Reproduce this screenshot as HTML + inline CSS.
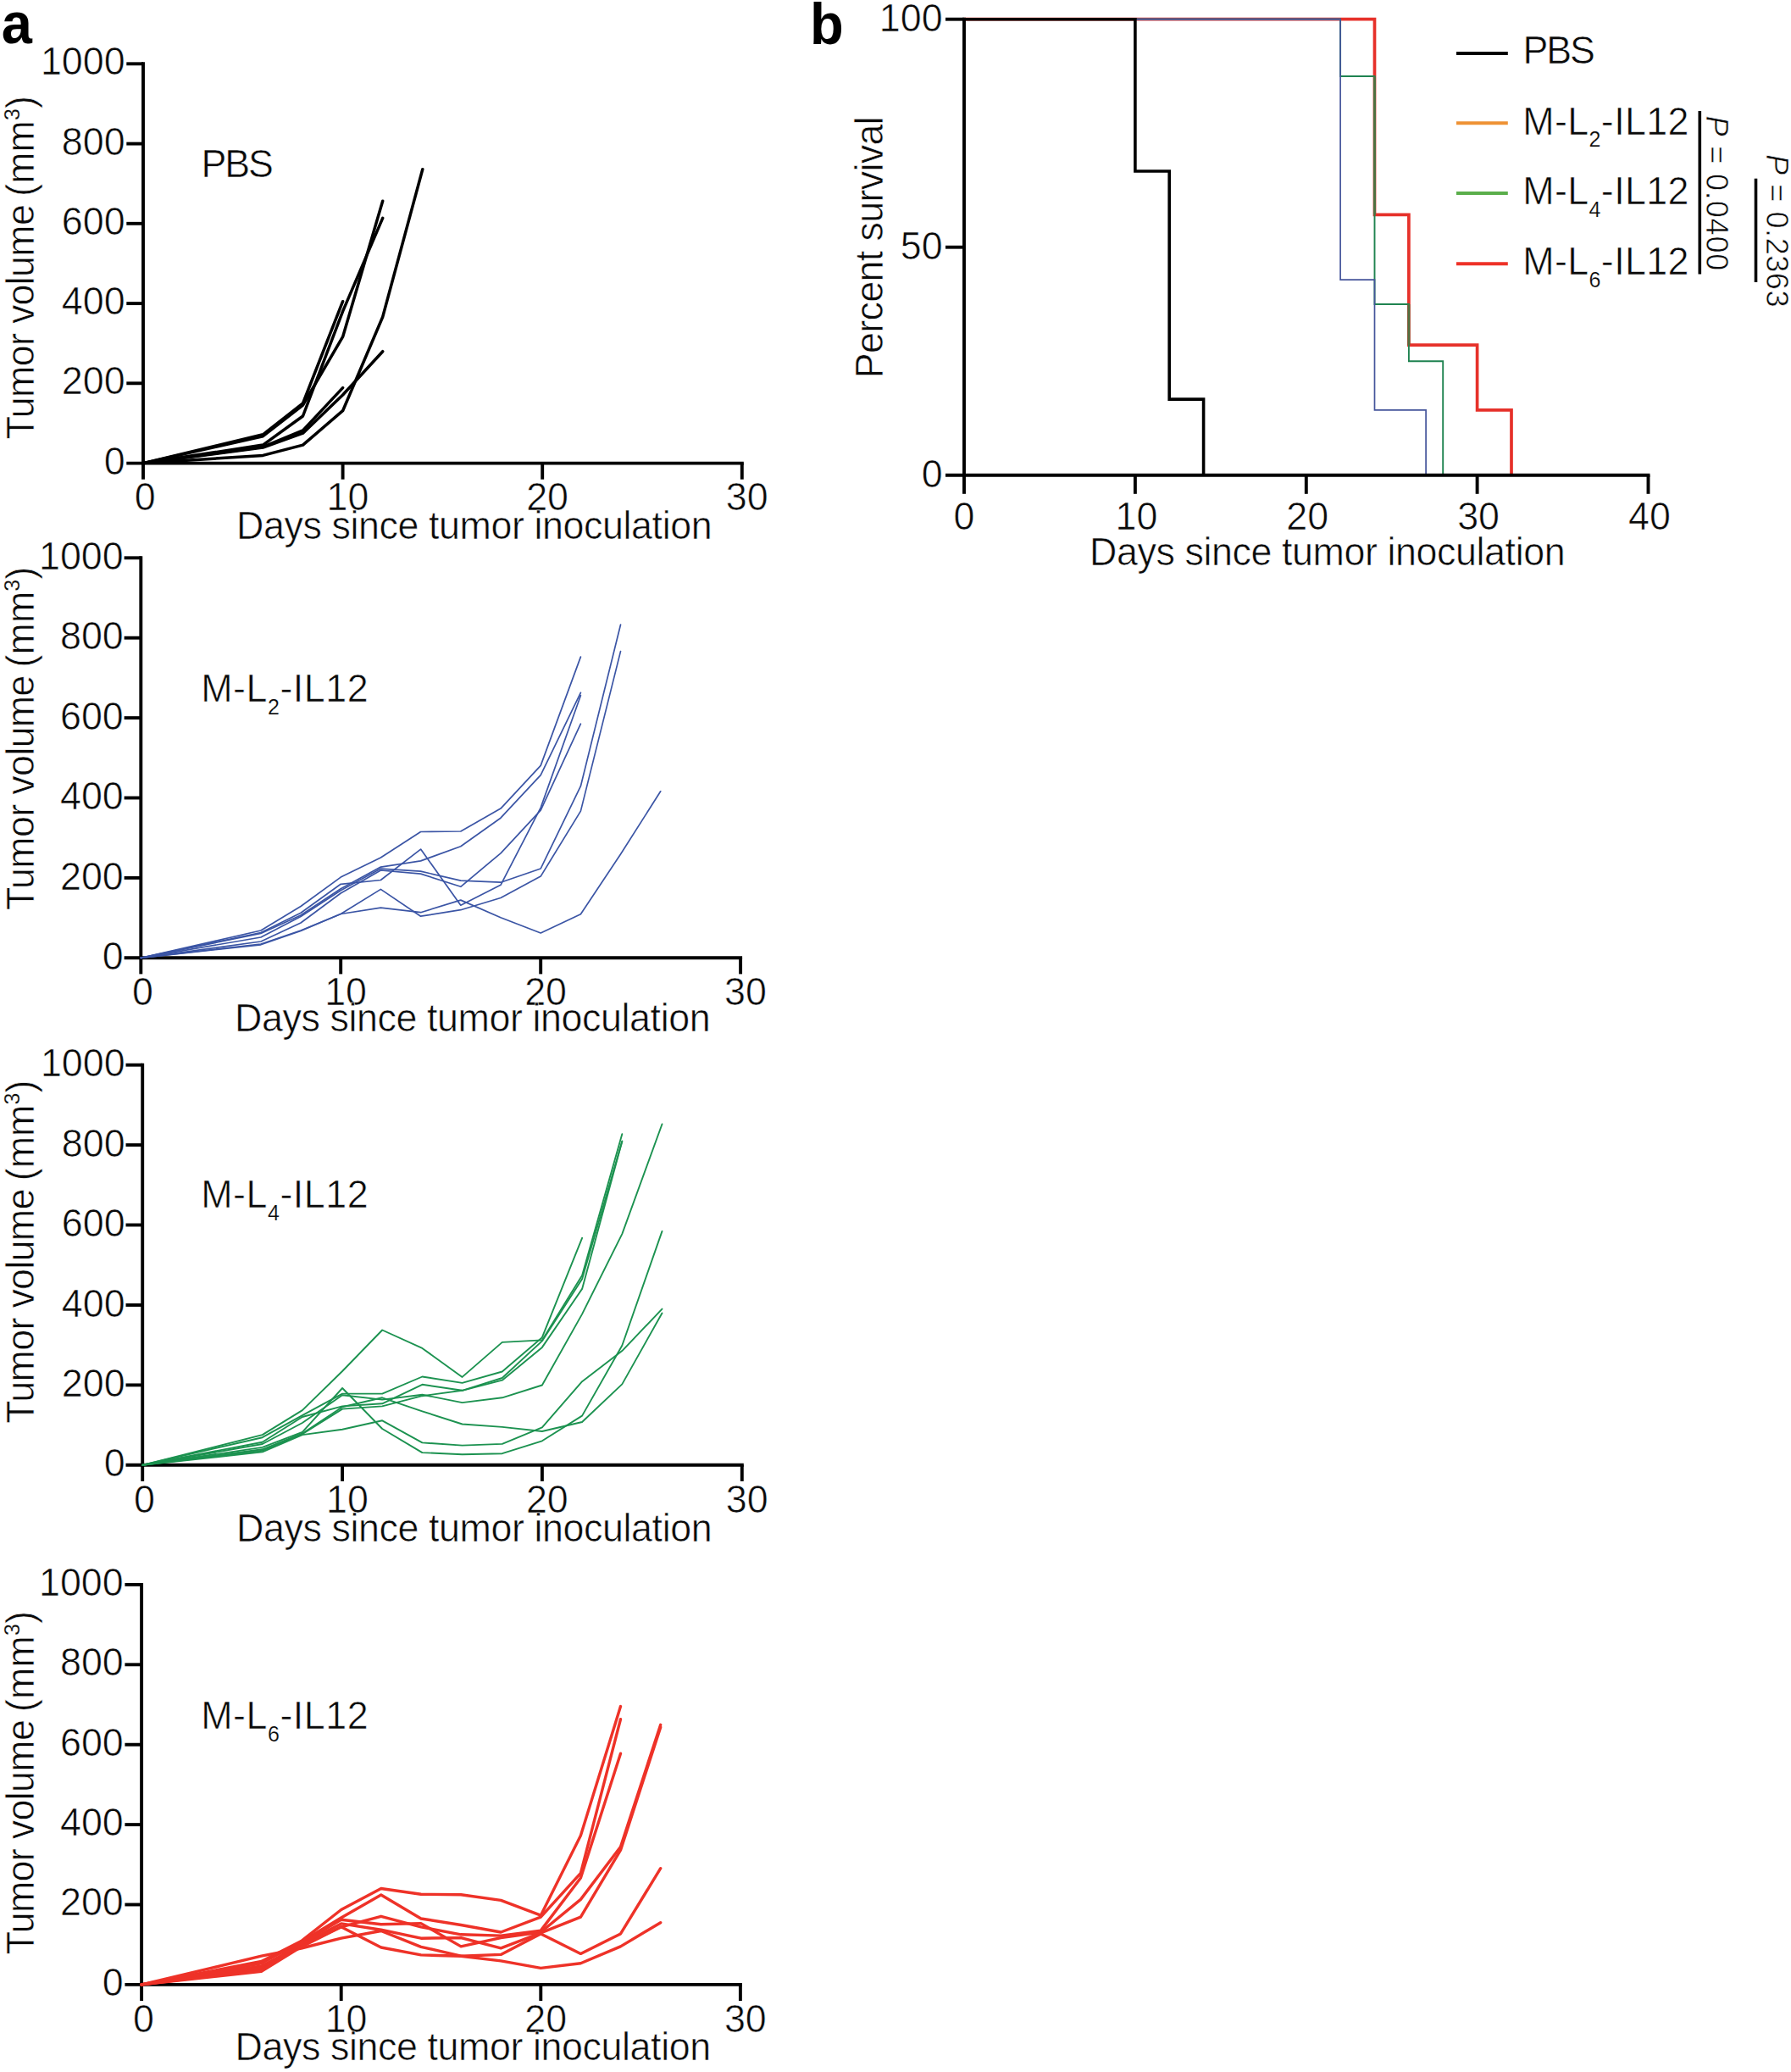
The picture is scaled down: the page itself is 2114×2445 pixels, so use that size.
<!DOCTYPE html>
<html lang="en"><head><meta charset="utf-8"><title>Tumor volume and survival</title>
<style>
html,body{margin:0;padding:0;background:#fff;}
svg{display:block;}
text{font-family:"Liberation Sans",sans-serif;font-size:44.8px;fill:#0a0a0a;}
.t{stroke:#fff;stroke-width:0.6px;paint-order:fill stroke;stroke-linejoin:round;}
.b{font-weight:bold;fill:#000;}
.i{font-style:italic;}
.s{stroke-width:0.2px;}
</style></head><body>
<svg width="2114" height="2445" viewBox="0 0 2114 2445" role="img" aria-label="Tumor volume curves and survival">
<rect x="0" y="0" width="2114" height="2445" fill="#ffffff"/>
<!-- panel a -->
<text class="b" transform="translate(1.8 51.4) scale(1 1.04)" style="font-size:65px">a</text>
<line x1="169" y1="73.3" x2="169" y2="548.6" stroke="#000" stroke-width="3.9" stroke-linecap="butt"/>
<line x1="149.3" y1="546.6" x2="877.8" y2="546.6" stroke="#000" stroke-width="3.9" stroke-linecap="butt"/>
<line x1="149.3" y1="75.3" x2="169" y2="75.3" stroke="#000" stroke-width="3.9" stroke-linecap="butt"/>
<line x1="149.3" y1="169.6" x2="169" y2="169.6" stroke="#000" stroke-width="3.9" stroke-linecap="butt"/>
<line x1="149.3" y1="263.8" x2="169" y2="263.8" stroke="#000" stroke-width="3.9" stroke-linecap="butt"/>
<line x1="149.3" y1="358.1" x2="169" y2="358.1" stroke="#000" stroke-width="3.9" stroke-linecap="butt"/>
<line x1="149.3" y1="452.3" x2="169" y2="452.3" stroke="#000" stroke-width="3.9" stroke-linecap="butt"/>
<line x1="169" y1="546.6" x2="169" y2="565.7" stroke="#000" stroke-width="3.9" stroke-linecap="butt"/>
<line x1="404.6" y1="546.6" x2="404.6" y2="565.7" stroke="#000" stroke-width="3.9" stroke-linecap="butt"/>
<line x1="640.2" y1="546.6" x2="640.2" y2="565.7" stroke="#000" stroke-width="3.9" stroke-linecap="butt"/>
<line x1="875.8" y1="546.6" x2="875.8" y2="565.7" stroke="#000" stroke-width="3.9" stroke-linecap="butt"/>
<polyline points="169,546.6 310.4,512.8 357.5,476 404.6,355.7" fill="none" stroke="#000000" stroke-width="3.5" stroke-linecap="round" stroke-linejoin="round"/>
<polyline points="169,546.6 310.4,514.7 357.5,478 404.6,397.4 451.7,237.2" fill="none" stroke="#000000" stroke-width="3.5" stroke-linecap="round" stroke-linejoin="round"/>
<polyline points="169,546.6 310.4,525.1 357.5,491 404.6,367.4 451.7,257.4" fill="none" stroke="#000000" stroke-width="3.5" stroke-linecap="round" stroke-linejoin="round"/>
<polyline points="169,546.6 310.4,527.3 357.5,507.9 404.6,457.6" fill="none" stroke="#000000" stroke-width="3.5" stroke-linecap="round" stroke-linejoin="round"/>
<polyline points="169,546.6 310.4,528 357.5,511.2 404.6,466 451.7,414.7" fill="none" stroke="#000000" stroke-width="3.5" stroke-linecap="round" stroke-linejoin="round"/>
<polyline points="169,546.6 310.4,537.4 357.5,525.1 404.6,484.7 451.7,374 498.8,199.7" fill="none" stroke="#000000" stroke-width="3.5" stroke-linecap="round" stroke-linejoin="round"/>
<text class="t" text-anchor="end" transform="translate(147.6 88.4) scale(1 1.05)">1000</text>
<text class="t" text-anchor="end" transform="translate(147.6 182.7) scale(1 1.05)">800</text>
<text class="t" text-anchor="end" transform="translate(147.6 276.9) scale(1 1.05)">600</text>
<text class="t" text-anchor="end" transform="translate(147.6 371.2) scale(1 1.05)">400</text>
<text class="t" text-anchor="end" transform="translate(147.6 465.4) scale(1 1.05)">200</text>
<text class="t" text-anchor="end" transform="translate(147.6 559.7) scale(1 1.05)">0</text>
<text class="t" transform="translate(158.8 602) scale(1 1.05)">0</text>
<text class="t" transform="translate(385.6 602) scale(1 1.05)">10</text>
<text class="t" transform="translate(621.2 602) scale(1 1.05)">20</text>
<text class="t" transform="translate(856.8 602) scale(1 1.05)">30</text>
<text class="t" textLength="561.5" lengthAdjust="spacing" transform="translate(279.1 636.3) scale(1 1.05)">Days since tumor inoculation</text>
<text class="t" textLength="277.1" lengthAdjust="spacing" transform="translate(39.5 518.2) rotate(-90) scale(1 1.05)">Tumor volume</text>
<text class="t" textLength="118.7" lengthAdjust="spacing" transform="translate(39.5 231.8) rotate(-90) scale(1 1.05)">(mm<tspan class="s" font-size="25" dy="-15.5">3</tspan><tspan dy="15.5">)</tspan></text>
<text class="t" textLength="85.5" lengthAdjust="spacing" transform="translate(237.5 209) scale(1 1.05)">PBS</text>
<line x1="166.3" y1="656.3" x2="166.3" y2="1132.2" stroke="#000" stroke-width="3.9" stroke-linecap="butt"/>
<line x1="146.6" y1="1130.3" x2="876.1" y2="1130.3" stroke="#000" stroke-width="3.9" stroke-linecap="butt"/>
<line x1="146.6" y1="658.3" x2="166.3" y2="658.3" stroke="#000" stroke-width="3.9" stroke-linecap="butt"/>
<line x1="146.6" y1="752.7" x2="166.3" y2="752.7" stroke="#000" stroke-width="3.9" stroke-linecap="butt"/>
<line x1="146.6" y1="847.1" x2="166.3" y2="847.1" stroke="#000" stroke-width="3.9" stroke-linecap="butt"/>
<line x1="146.6" y1="941.5" x2="166.3" y2="941.5" stroke="#000" stroke-width="3.9" stroke-linecap="butt"/>
<line x1="146.6" y1="1035.9" x2="166.3" y2="1035.9" stroke="#000" stroke-width="3.9" stroke-linecap="butt"/>
<line x1="166.3" y1="1130.3" x2="166.3" y2="1149.4" stroke="#000" stroke-width="3.9" stroke-linecap="butt"/>
<line x1="402.2" y1="1130.3" x2="402.2" y2="1149.4" stroke="#000" stroke-width="3.9" stroke-linecap="butt"/>
<line x1="638.2" y1="1130.3" x2="638.2" y2="1149.4" stroke="#000" stroke-width="3.9" stroke-linecap="butt"/>
<line x1="874.1" y1="1130.3" x2="874.1" y2="1149.4" stroke="#000" stroke-width="3.9" stroke-linecap="butt"/>
<polyline points="166.3,1130.3 307.9,1098 355,1069.5 402.2,1035.1 449.4,1012 496.6,981.5 543.8,981 591,954.1 638.2,903.4 685.4,775.1" fill="none" stroke="#3b55a5" stroke-width="1.7" stroke-linecap="round" stroke-linejoin="round"/>
<polyline points="166.3,1130.3 307.9,1100.5 355,1077.3 402.2,1043.3 449.4,1038.5 496.6,1002.1 543.8,1068.2 591,1044.3 638.2,953.1 685.4,820.7" fill="none" stroke="#3b55a5" stroke-width="1.7" stroke-linecap="round" stroke-linejoin="round"/>
<polyline points="166.3,1130.3 307.9,1101.5 355,1080 402.2,1048.8 449.4,1023.1 496.6,1015.9 543.8,998.7 591,965.2 638.2,914.6 685.4,817.3" fill="none" stroke="#3b55a5" stroke-width="1.7" stroke-linecap="round" stroke-linejoin="round"/>
<polyline points="166.3,1130.3 307.9,1106 355,1081.5 402.2,1050.8 449.4,1025.1 496.6,1028.1 543.8,1039.2 591,1041.2 638.2,1025 685.4,927.7 732.5,737.2" fill="none" stroke="#3b55a5" stroke-width="1.7" stroke-linecap="round" stroke-linejoin="round"/>
<polyline points="166.3,1130.3 307.9,1111 355,1089 402.2,1054 449.4,1027 496.6,1031.1 543.8,1046.3 591,1006.8 638.2,956.1 685.4,854.2" fill="none" stroke="#3b55a5" stroke-width="1.7" stroke-linecap="round" stroke-linejoin="round"/>
<polyline points="166.3,1130.3 307.9,1114 355,1098 402.2,1078.5 449.4,1049.4 496.6,1081.2 543.8,1073.7 591,1059.5 638.2,1034.1 685.4,957.1 732.5,768.6" fill="none" stroke="#3b55a5" stroke-width="1.7" stroke-linecap="round" stroke-linejoin="round"/>
<polyline points="166.3,1130.3 307.9,1114.8 355,1098.5 402.2,1078.5 449.4,1071.2 496.6,1076.7 543.8,1062.1 591,1082.8 638.2,1101 685.4,1078.7 732.5,1008 779.7,933.8" fill="none" stroke="#3b55a5" stroke-width="1.7" stroke-linecap="round" stroke-linejoin="round"/>
<text class="t" text-anchor="end" transform="translate(145.7 671.9) scale(1 1.05)">1000</text>
<text class="t" text-anchor="end" transform="translate(145.7 766.3) scale(1 1.05)">800</text>
<text class="t" text-anchor="end" transform="translate(145.7 860.7) scale(1 1.05)">600</text>
<text class="t" text-anchor="end" transform="translate(145.7 955.1) scale(1 1.05)">400</text>
<text class="t" text-anchor="end" transform="translate(145.7 1049.5) scale(1 1.05)">200</text>
<text class="t" text-anchor="end" transform="translate(145.7 1143.9) scale(1 1.05)">0</text>
<text class="t" transform="translate(156.1 1185.5) scale(1 1.05)">0</text>
<text class="t" transform="translate(383.2 1185.5) scale(1 1.05)">10</text>
<text class="t" transform="translate(619.2 1185.5) scale(1 1.05)">20</text>
<text class="t" transform="translate(855.1 1185.5) scale(1 1.05)">30</text>
<text class="t" textLength="561.5" lengthAdjust="spacing" transform="translate(277.1 1216.9) scale(1 1.05)">Days since tumor inoculation</text>
<text class="t" textLength="277.1" lengthAdjust="spacing" transform="translate(39.5 1073.9) rotate(-90) scale(1 1.05)">Tumor volume</text>
<text class="t" textLength="118.7" lengthAdjust="spacing" transform="translate(39.5 787.5) rotate(-90) scale(1 1.05)">(mm<tspan class="s" font-size="25" dy="-15.5">3</tspan><tspan dy="15.5">)</tspan></text>
<text class="t" textLength="197.5" lengthAdjust="spacing" transform="translate(237.2 828.4) scale(1 1.05)">M-L<tspan class="s" font-size="25" dy="14">2</tspan><tspan dy="-14">-IL12</tspan></text>
<line x1="168.2" y1="1254.8" x2="168.2" y2="1730.8" stroke="#000" stroke-width="3.9" stroke-linecap="butt"/>
<line x1="148.5" y1="1728.8" x2="877.8" y2="1728.8" stroke="#000" stroke-width="3.9" stroke-linecap="butt"/>
<line x1="148.5" y1="1256.7" x2="168.2" y2="1256.7" stroke="#000" stroke-width="3.9" stroke-linecap="butt"/>
<line x1="148.5" y1="1351.1" x2="168.2" y2="1351.1" stroke="#000" stroke-width="3.9" stroke-linecap="butt"/>
<line x1="148.5" y1="1445.5" x2="168.2" y2="1445.5" stroke="#000" stroke-width="3.9" stroke-linecap="butt"/>
<line x1="148.5" y1="1540" x2="168.2" y2="1540" stroke="#000" stroke-width="3.9" stroke-linecap="butt"/>
<line x1="148.5" y1="1634.4" x2="168.2" y2="1634.4" stroke="#000" stroke-width="3.9" stroke-linecap="butt"/>
<line x1="168.2" y1="1728.8" x2="168.2" y2="1747.9" stroke="#000" stroke-width="3.9" stroke-linecap="butt"/>
<line x1="404.1" y1="1728.8" x2="404.1" y2="1747.9" stroke="#000" stroke-width="3.9" stroke-linecap="butt"/>
<line x1="639.9" y1="1728.8" x2="639.9" y2="1747.9" stroke="#000" stroke-width="3.9" stroke-linecap="butt"/>
<line x1="875.8" y1="1728.8" x2="875.8" y2="1747.9" stroke="#000" stroke-width="3.9" stroke-linecap="butt"/>
<polyline points="168.2,1728.8 309.7,1693.1 356.9,1664.1 404.1,1618 451.2,1569.5 498.4,1590.9 545.6,1624.9 592.8,1583.9 639.9,1581.4 687.1,1504.9 734.3,1338.2" fill="none" stroke="#1c9250" stroke-width="1.9" stroke-linecap="round" stroke-linejoin="round"/>
<polyline points="168.2,1728.8 309.7,1696.2 356.9,1670.1 404.1,1644.6 451.2,1644.6 498.4,1624.5 545.6,1631.9 592.8,1618.5 639.9,1578.2 687.1,1460.8" fill="none" stroke="#1c9250" stroke-width="1.9" stroke-linecap="round" stroke-linejoin="round"/>
<polyline points="168.2,1728.8 309.7,1701.7 356.9,1672 404.1,1659.4 451.2,1656.3 498.4,1633.8 545.6,1640.8 592.8,1626 639.9,1582.4 687.1,1509.2 734.3,1346.7" fill="none" stroke="#1c9250" stroke-width="1.9" stroke-linecap="round" stroke-linejoin="round"/>
<polyline points="168.2,1728.8 309.7,1704 356.9,1679 404.1,1646.2 451.2,1651.6 498.4,1645.7 545.6,1655.1 592.8,1649.3 639.9,1634.5 687.1,1550.6 734.3,1456.1 781.5,1326.5" fill="none" stroke="#1c9250" stroke-width="1.9" stroke-linecap="round" stroke-linejoin="round"/>
<polyline points="168.2,1728.8 309.7,1707.9 356.9,1689.9 404.1,1638 451.2,1686 498.4,1714.1 545.6,1716.2 592.8,1715.2 639.9,1700.3 687.1,1670.6 734.3,1587.7 781.5,1452.9" fill="none" stroke="#1c9250" stroke-width="1.9" stroke-linecap="round" stroke-linejoin="round"/>
<polyline points="168.2,1728.8 309.7,1710.3 356.9,1691.5 404.1,1660.2 451.2,1649.3 498.4,1665.3 545.6,1680.5 592.8,1683.9 639.9,1689 687.1,1678 734.3,1633.4 781.5,1549.5" fill="none" stroke="#1c9250" stroke-width="1.9" stroke-linecap="round" stroke-linejoin="round"/>
<polyline points="168.2,1728.8 309.7,1711.8 356.9,1692.3 404.1,1662.6 451.2,1659.4 498.4,1647.2 545.6,1640.8 592.8,1628.7 639.9,1589.9 687.1,1520.9 734.3,1346.7" fill="none" stroke="#1c9250" stroke-width="1.9" stroke-linecap="round" stroke-linejoin="round"/>
<polyline points="168.2,1728.8 309.7,1713.4 356.9,1693.1 404.1,1686.8 451.2,1676.3 498.4,1702.4 545.6,1705.6 592.8,1703.9 639.9,1684.4 687.1,1630.2 734.3,1594.1 781.5,1544.6" fill="none" stroke="#1c9250" stroke-width="1.9" stroke-linecap="round" stroke-linejoin="round"/>
<text class="t" text-anchor="end" transform="translate(147.6 1270.3) scale(1 1.05)">1000</text>
<text class="t" text-anchor="end" transform="translate(147.6 1364.7) scale(1 1.05)">800</text>
<text class="t" text-anchor="end" transform="translate(147.6 1459.1) scale(1 1.05)">600</text>
<text class="t" text-anchor="end" transform="translate(147.6 1553.6) scale(1 1.05)">400</text>
<text class="t" text-anchor="end" transform="translate(147.6 1648) scale(1 1.05)">200</text>
<text class="t" text-anchor="end" transform="translate(147.6 1742.4) scale(1 1.05)">0</text>
<text class="t" transform="translate(158 1785) scale(1 1.05)">0</text>
<text class="t" transform="translate(385.1 1785) scale(1 1.05)">10</text>
<text class="t" transform="translate(620.9 1785) scale(1 1.05)">20</text>
<text class="t" transform="translate(856.8 1785) scale(1 1.05)">30</text>
<text class="t" textLength="561.5" lengthAdjust="spacing" transform="translate(279.1 1818.6) scale(1 1.05)">Days since tumor inoculation</text>
<text class="t" textLength="277.1" lengthAdjust="spacing" transform="translate(39.5 1679.7) rotate(-90) scale(1 1.05)">Tumor volume</text>
<text class="t" textLength="118.7" lengthAdjust="spacing" transform="translate(39.5 1393.3) rotate(-90) scale(1 1.05)">(mm<tspan class="s" font-size="25" dy="-15.5">3</tspan><tspan dy="15.5">)</tspan></text>
<text class="t" textLength="197.5" lengthAdjust="spacing" transform="translate(237.2 1425.4) scale(1 1.05)">M-L<tspan class="s" font-size="25" dy="14">4</tspan><tspan dy="-14">-IL12</tspan></text>
<line x1="167.1" y1="1868" x2="167.1" y2="2343.8" stroke="#000" stroke-width="3.9" stroke-linecap="butt"/>
<line x1="147.4" y1="2341.9" x2="875.9" y2="2341.9" stroke="#000" stroke-width="3.9" stroke-linecap="butt"/>
<line x1="147.4" y1="1869.9" x2="167.1" y2="1869.9" stroke="#000" stroke-width="3.9" stroke-linecap="butt"/>
<line x1="147.4" y1="1964.3" x2="167.1" y2="1964.3" stroke="#000" stroke-width="3.9" stroke-linecap="butt"/>
<line x1="147.4" y1="2058.7" x2="167.1" y2="2058.7" stroke="#000" stroke-width="3.9" stroke-linecap="butt"/>
<line x1="147.4" y1="2153.1" x2="167.1" y2="2153.1" stroke="#000" stroke-width="3.9" stroke-linecap="butt"/>
<line x1="147.4" y1="2247.5" x2="167.1" y2="2247.5" stroke="#000" stroke-width="3.9" stroke-linecap="butt"/>
<line x1="167.1" y1="2341.9" x2="167.1" y2="2361" stroke="#000" stroke-width="3.9" stroke-linecap="butt"/>
<line x1="402.7" y1="2341.9" x2="402.7" y2="2361" stroke="#000" stroke-width="3.9" stroke-linecap="butt"/>
<line x1="638.3" y1="2341.9" x2="638.3" y2="2361" stroke="#000" stroke-width="3.9" stroke-linecap="butt"/>
<line x1="873.9" y1="2341.9" x2="873.9" y2="2361" stroke="#000" stroke-width="3.9" stroke-linecap="butt"/>
<polyline points="167.1,2341.9 308.5,2314.5 355.6,2290.5 402.7,2253.5 449.8,2228.5 496.9,2235.2 544.1,2235.8 591.2,2242.4 638.3,2260.2 685.4,2166.1 732.5,2013.6" fill="none" stroke="#ee3228" stroke-width="3.4" stroke-linecap="round" stroke-linejoin="round"/>
<polyline points="167.1,2341.9 308.5,2316.8 355.6,2291.5 402.7,2262.9 449.8,2236 496.9,2264 544.1,2271.5 591.2,2280 638.3,2262.1 685.4,2210.4 732.5,2028.7" fill="none" stroke="#ee3228" stroke-width="3.4" stroke-linecap="round" stroke-linejoin="round"/>
<polyline points="167.1,2341.9 308.5,2319.9 355.6,2296 402.7,2273.8 449.8,2261.3 496.9,2273.8 544.1,2282.8 591.2,2284.1 638.3,2278.1 685.4,2216 732.5,2069.2" fill="none" stroke="#ee3228" stroke-width="3.4" stroke-linecap="round" stroke-linejoin="round"/>
<polyline points="167.1,2341.9 308.5,2322.3 355.6,2293 402.7,2265.2 449.8,2270.7 496.9,2269.6 544.1,2296.9 591.2,2286.6 638.3,2280 685.4,2241.4 732.5,2179.3 779.7,2035.3" fill="none" stroke="#ee3228" stroke-width="3.4" stroke-linecap="round" stroke-linejoin="round"/>
<polyline points="167.1,2341.9 308.5,2324.6 355.6,2294.4 402.7,2269.9 449.8,2277.2 496.9,2287.2 544.1,2286.6 591.2,2298.8 638.3,2280.9 685.4,2262.1 732.5,2183.1 779.7,2038.1" fill="none" stroke="#ee3228" stroke-width="3.4" stroke-linecap="round" stroke-linejoin="round"/>
<polyline points="167.1,2341.9 308.5,2308.2 355.6,2299 402.7,2287.1 449.8,2278.5 496.9,2297.3 544.1,2308.2 591.2,2306.4 638.3,2281.9 685.4,2305.4 732.5,2281.9 779.7,2204.7" fill="none" stroke="#ee3228" stroke-width="3.4" stroke-linecap="round" stroke-linejoin="round"/>
<polyline points="167.1,2341.9 308.5,2326.2 355.6,2297.4 402.7,2273.8 449.8,2298 496.9,2306.9 544.1,2308.2 591.2,2313.9 638.3,2322.4 685.4,2316.7 732.5,2296.9 779.7,2268.7" fill="none" stroke="#ee3228" stroke-width="3.4" stroke-linecap="round" stroke-linejoin="round"/>
<text class="t" text-anchor="end" transform="translate(145.7 1882.7) scale(1 1.05)">1000</text>
<text class="t" text-anchor="end" transform="translate(145.7 1977.1) scale(1 1.05)">800</text>
<text class="t" text-anchor="end" transform="translate(145.7 2071.5) scale(1 1.05)">600</text>
<text class="t" text-anchor="end" transform="translate(145.7 2165.9) scale(1 1.05)">400</text>
<text class="t" text-anchor="end" transform="translate(145.7 2260.3) scale(1 1.05)">200</text>
<text class="t" text-anchor="end" transform="translate(145.7 2354.7) scale(1 1.05)">0</text>
<text class="t" transform="translate(156.9 2397.5) scale(1 1.05)">0</text>
<text class="t" transform="translate(383.7 2397.5) scale(1 1.05)">10</text>
<text class="t" transform="translate(619.3 2397.5) scale(1 1.05)">20</text>
<text class="t" transform="translate(854.9 2397.5) scale(1 1.05)">30</text>
<text class="t" textLength="561.5" lengthAdjust="spacing" transform="translate(277.6 2430.6) scale(1 1.05)">Days since tumor inoculation</text>
<text class="t" textLength="277.1" lengthAdjust="spacing" transform="translate(39.5 2306.3) rotate(-90) scale(1 1.05)">Tumor volume</text>
<text class="t" textLength="118.7" lengthAdjust="spacing" transform="translate(39.5 2019.9) rotate(-90) scale(1 1.05)">(mm<tspan class="s" font-size="25" dy="-15.5">3</tspan><tspan dy="15.5">)</tspan></text>
<text class="t" textLength="197.5" lengthAdjust="spacing" transform="translate(237.2 2040.4) scale(1 1.05)">M-L<tspan class="s" font-size="25" dy="14">6</tspan><tspan dy="-14">-IL12</tspan></text>
<!-- panel b -->
<text class="b" transform="translate(956 51.6) scale(1 1.04)" style="font-size:65px">b</text>
<polyline points="1138,22.7 1622.5,22.7 1622.5,253.3 1662.9,253.3 1662.9,407.1 1743.6,407.1 1743.6,483.9 1784,483.9 1784,560.8" fill="none" stroke="#e6312a" stroke-width="3.7" stroke-linecap="butt" stroke-linejoin="miter"/>
<polyline points="1138,22.7 1582.1,22.7 1582.1,90 1622.5,90 1622.5,359 1662.9,359 1662.9,426.3 1703.2,426.3 1703.2,560.8" fill="none" stroke="#1f8350" stroke-width="1.9" stroke-linecap="butt" stroke-linejoin="miter"/>
<polyline points="1138,22.7 1582.1,22.7 1582.1,330.2 1622.5,330.2 1622.5,483.9 1683.1,483.9 1683.1,560.8" fill="none" stroke="#44549a" stroke-width="1.7" stroke-linecap="butt" stroke-linejoin="miter"/>
<line x1="1622.5" y1="90" x2="1622.5" y2="253.3" stroke="#4f7040" stroke-width="3" stroke-linecap="butt"/>
<line x1="1662.9" y1="359" x2="1662.9" y2="407.1" stroke="#4f7040" stroke-width="3" stroke-linecap="butt"/>
<line x1="1339.9" y1="22.7" x2="1582.1" y2="22.7" stroke="#565a8c" stroke-width="2.4" stroke-linecap="butt"/>
<polyline points="1138,22.7 1339.9,22.7 1339.9,202 1380.2,202 1380.2,471.1 1420.6,471.1 1420.6,560.8" fill="none" stroke="#000" stroke-width="3.6" stroke-linecap="butt" stroke-linejoin="miter"/>
<line x1="1138" y1="20.8" x2="1138" y2="562.8" stroke="#000" stroke-width="3.9" stroke-linecap="butt"/>
<line x1="1116" y1="560.8" x2="1947.5" y2="560.8" stroke="#000" stroke-width="3.9" stroke-linecap="butt"/>
<line x1="1116" y1="22.7" x2="1138" y2="22.7" stroke="#000" stroke-width="3.9" stroke-linecap="butt"/>
<line x1="1116" y1="291.7" x2="1138" y2="291.7" stroke="#000" stroke-width="3.9" stroke-linecap="butt"/>
<line x1="1138" y1="560.8" x2="1138" y2="582.8" stroke="#000" stroke-width="3.9" stroke-linecap="butt"/>
<line x1="1339.9" y1="560.8" x2="1339.9" y2="582.8" stroke="#000" stroke-width="3.9" stroke-linecap="butt"/>
<line x1="1541.8" y1="560.8" x2="1541.8" y2="582.8" stroke="#000" stroke-width="3.9" stroke-linecap="butt"/>
<line x1="1743.6" y1="560.8" x2="1743.6" y2="582.8" stroke="#000" stroke-width="3.9" stroke-linecap="butt"/>
<line x1="1945.5" y1="560.8" x2="1945.5" y2="582.8" stroke="#000" stroke-width="3.9" stroke-linecap="butt"/>
<text class="t" text-anchor="end" transform="translate(1112.6 37.1) scale(1 1.05)">100</text>
<text class="t" text-anchor="end" transform="translate(1112.6 306) scale(1 1.05)">50</text>
<text class="t" text-anchor="end" transform="translate(1112.6 575.2) scale(1 1.05)">0</text>
<text class="t" text-anchor="middle" transform="translate(1138 624.5) scale(1 1.05)">0</text>
<text class="t" text-anchor="middle" transform="translate(1341.4 624.5) scale(1 1.05)">10</text>
<text class="t" text-anchor="middle" transform="translate(1543.2 624.5) scale(1 1.05)">20</text>
<text class="t" text-anchor="middle" transform="translate(1745.1 624.5) scale(1 1.05)">30</text>
<text class="t" text-anchor="middle" transform="translate(1947 624.5) scale(1 1.05)">40</text>
<text class="t" textLength="561.5" lengthAdjust="spacing" transform="translate(1286.1 667) scale(1 1.05)">Days since tumor inoculation</text>
<text class="t" textLength="309" lengthAdjust="spacing" transform="translate(1042.3 446.2) rotate(-90) scale(1 1.05)">Percent survival</text>
<line x1="1719" y1="62.9" x2="1779.8" y2="62.9" stroke="#000000" stroke-width="4" stroke-linecap="butt"/>
<line x1="1719" y1="145.2" x2="1779.8" y2="145.2" stroke="#ee9234" stroke-width="4" stroke-linecap="butt"/>
<line x1="1719" y1="227.9" x2="1779.8" y2="227.9" stroke="#5aae4b" stroke-width="4" stroke-linecap="butt"/>
<line x1="1719" y1="311.3" x2="1779.8" y2="311.3" stroke="#ee3228" stroke-width="4" stroke-linecap="butt"/>
<text class="t" textLength="85.5" lengthAdjust="spacing" transform="translate(1797.5 75.2) scale(1 1.05)">PBS</text>
<text class="t" textLength="196.3" lengthAdjust="spacing" transform="translate(1797.2 158.6) scale(1 1.05)">M-L<tspan class="s" font-size="25" dy="14">2</tspan><tspan dy="-14">-IL12</tspan></text>
<text class="t" textLength="196.3" lengthAdjust="spacing" transform="translate(1797.2 241.3) scale(1 1.05)">M-L<tspan class="s" font-size="25" dy="14">4</tspan><tspan dy="-14">-IL12</tspan></text>
<text class="t" textLength="196.3" lengthAdjust="spacing" transform="translate(1797.2 323.8) scale(1 1.05)">M-L<tspan class="s" font-size="25" dy="14">6</tspan><tspan dy="-14">-IL12</tspan></text>
<line x1="2006.3" y1="131.1" x2="2006.3" y2="323.6" stroke="#000" stroke-width="3.6" stroke-linecap="butt"/>
<line x1="2072.5" y1="210.7" x2="2072.5" y2="333" stroke="#000" stroke-width="3.6" stroke-linecap="butt"/>
<text class="t" textLength="183" lengthAdjust="spacing" transform="translate(2014.3 136.4) rotate(90) scale(1 1.05)" style="font-size:36px"><tspan class="i">P</tspan> = 0.0400</text>
<text class="t" textLength="180.5" lengthAdjust="spacing" transform="translate(2084.5 182) rotate(90) scale(1 1.05)" style="font-size:36px"><tspan class="i">P</tspan> = 0.2363</text>
</svg></body></html>
